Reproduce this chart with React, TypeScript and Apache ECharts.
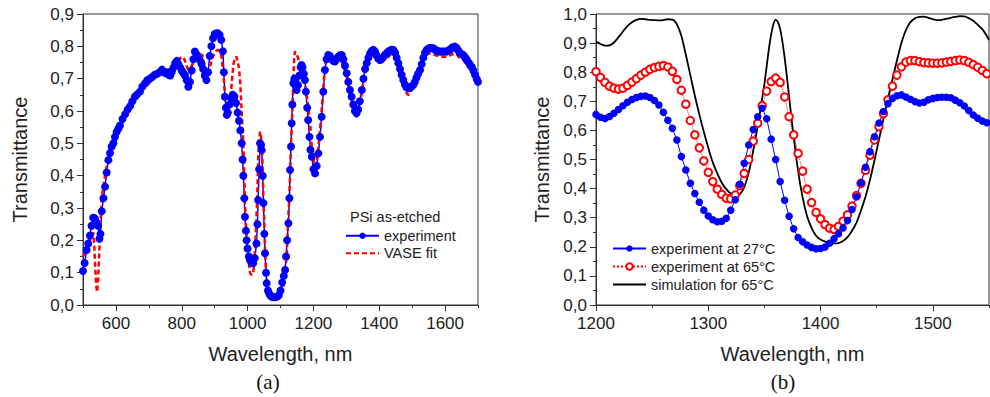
import React, { useEffect, useRef } from "react";
import * as echarts from "echarts";

// ---------- Panel (a): PSi as-etched ----------
const expA: [number, number][] = [
  [500, 0.105], [505, 0.13], [511, 0.17], [516, 0.19], [521, 0.215], [526, 0.245], [531, 0.27], [536, 0.268],
  [541, 0.255], [546, 0.245], [550, 0.205], [553, 0.22], [557, 0.29], [562, 0.33], [567, 0.366], [572, 0.41],
  [577, 0.448], [582, 0.47], [587, 0.49], [592, 0.5], [597, 0.52], [602, 0.535], [607, 0.545], [612, 0.555],
  [620, 0.575], [628, 0.59], [636, 0.605], [643, 0.615], [650, 0.63], [658, 0.645], [665, 0.652], [673, 0.66],
  [680, 0.675], [688, 0.685], [695, 0.695], [703, 0.7], [710, 0.705], [718, 0.712], [725, 0.715], [733, 0.72],
  [740, 0.728], [748, 0.718], [755, 0.72], [760, 0.712], [765, 0.71], [770, 0.722], [775, 0.735], [780, 0.748],
  [785, 0.755], [790, 0.745], [795, 0.735], [800, 0.725], [805, 0.717], [810, 0.71], [815, 0.695], [820, 0.675],
  [825, 0.69], [830, 0.725], [835, 0.76], [840, 0.784], [845, 0.775], [850, 0.765], [855, 0.758], [860, 0.745],
  [865, 0.73], [870, 0.71], [875, 0.696], [880, 0.72], [885, 0.77], [890, 0.8], [895, 0.825], [900, 0.838],
  [905, 0.84], [910, 0.84], [915, 0.835], [920, 0.82], [925, 0.785], [928, 0.72], [931, 0.644], [934, 0.61],
  [937, 0.588], [940, 0.595], [945, 0.62], [950, 0.64], [955, 0.65], [960, 0.645], [965, 0.625], [970, 0.595],
  [974, 0.57], [978, 0.54], [982, 0.5], [985, 0.45], [987, 0.4], [990, 0.33], [992, 0.273], [995, 0.23],
  [997, 0.2], [1000, 0.175], [1004, 0.15], [1007, 0.139], [1012, 0.13], [1017, 0.129], [1022, 0.145], [1027, 0.19],
  [1030, 0.25], [1032, 0.325], [1035, 0.42], [1038, 0.5], [1041, 0.495], [1043, 0.479], [1046, 0.4], [1048, 0.315],
  [1051, 0.22], [1053, 0.16], [1056, 0.1], [1058, 0.067], [1062, 0.045], [1066, 0.035], [1070, 0.028], [1075, 0.025],
  [1080, 0.024], [1085, 0.025], [1090, 0.026], [1095, 0.03], [1100, 0.045], [1105, 0.07], [1110, 0.09], [1114, 0.108],
  [1117, 0.15], [1120, 0.2], [1124, 0.253], [1127, 0.33], [1129, 0.418], [1132, 0.49], [1134, 0.562], [1136, 0.62],
  [1139, 0.686], [1142, 0.7], [1145, 0.68], [1149, 0.665], [1153, 0.68], [1157, 0.71], [1161, 0.735], [1164, 0.742],
  [1167, 0.735], [1171, 0.715], [1174, 0.696], [1177, 0.66], [1181, 0.61], [1184, 0.572], [1188, 0.52], [1191, 0.48],
  [1195, 0.459], [1200, 0.42], [1205, 0.407], [1210, 0.43], [1215, 0.469], [1220, 0.52], [1225, 0.582], [1230, 0.66],
  [1235, 0.727], [1240, 0.76], [1245, 0.773], [1250, 0.77], [1255, 0.762], [1260, 0.755], [1265, 0.753], [1270, 0.76],
  [1275, 0.768], [1280, 0.772], [1286, 0.773], [1291, 0.76], [1296, 0.74], [1301, 0.717], [1306, 0.69], [1311, 0.665],
  [1316, 0.644], [1321, 0.62], [1326, 0.6], [1331, 0.593], [1336, 0.605], [1341, 0.63], [1347, 0.665], [1352, 0.7],
  [1357, 0.73], [1362, 0.748], [1367, 0.765], [1372, 0.778], [1377, 0.786], [1382, 0.789], [1387, 0.784], [1392, 0.772],
  [1397, 0.762], [1402, 0.758], [1407, 0.76], [1412, 0.766], [1417, 0.773], [1422, 0.778], [1427, 0.783], [1432, 0.787],
  [1437, 0.789], [1443, 0.789], [1448, 0.78], [1453, 0.765], [1458, 0.748], [1463, 0.73], [1468, 0.712], [1473, 0.696],
  [1478, 0.682], [1483, 0.673], [1488, 0.67], [1493, 0.672], [1498, 0.676], [1503, 0.68], [1508, 0.69], [1513, 0.703],
  [1518, 0.715], [1524, 0.727], [1529, 0.745], [1534, 0.765], [1539, 0.78], [1544, 0.789], [1549, 0.793], [1554, 0.795],
  [1559, 0.795], [1564, 0.794], [1569, 0.79], [1574, 0.787], [1579, 0.785], [1584, 0.784], [1589, 0.784], [1594, 0.784],
  [1599, 0.784], [1605, 0.784], [1610, 0.787], [1615, 0.79], [1620, 0.795], [1625, 0.798], [1630, 0.799], [1635, 0.795],
  [1640, 0.787], [1645, 0.78], [1650, 0.776], [1655, 0.773], [1660, 0.767], [1665, 0.76], [1670, 0.752], [1675, 0.745],
  [1681, 0.737], [1686, 0.725], [1691, 0.712], [1696, 0.7], [1700, 0.69],
];

const vaseA: [number, number][] = [
  [500, 0.15], [505, 0.165], [510, 0.18], [516, 0.19], [521, 0.2], [526, 0.215], [531, 0.225], [534, 0.19],
  [537, 0.12], [540, 0.06], [543, 0.04], [546, 0.08], [549, 0.15], [553, 0.25], [557, 0.33], [562, 0.37],
  [567, 0.4], [572, 0.43], [577, 0.445], [585, 0.47], [592, 0.49], [600, 0.51], [610, 0.54], [620, 0.565],
  [630, 0.585], [640, 0.605], [650, 0.62], [660, 0.635], [670, 0.65], [680, 0.665], [690, 0.675], [700, 0.685],
  [710, 0.695], [720, 0.705], [730, 0.71], [740, 0.718], [750, 0.722], [760, 0.728], [770, 0.735], [780, 0.745],
  [790, 0.755], [797, 0.765], [803, 0.768], [808, 0.76], [813, 0.745], [818, 0.73], [823, 0.727], [828, 0.735],
  [835, 0.75], [842, 0.763], [850, 0.77], [858, 0.775], [863, 0.772], [868, 0.745], [873, 0.715], [877, 0.7],
  [882, 0.71], [887, 0.74], [893, 0.765], [900, 0.778], [906, 0.787], [911, 0.789], [916, 0.784], [921, 0.768],
  [926, 0.72], [931, 0.655], [936, 0.625], [942, 0.613], [947, 0.625], [952, 0.69], [957, 0.745], [962, 0.765],
  [966, 0.768], [970, 0.755], [974, 0.73], [977, 0.7], [981, 0.62], [984, 0.56], [987, 0.5], [990, 0.4],
  [992, 0.315], [995, 0.25], [998, 0.2], [1002, 0.17], [1005, 0.12], [1008, 0.098], [1012, 0.093], [1017, 0.098],
  [1021, 0.14], [1024, 0.2], [1027, 0.27], [1030, 0.36], [1032, 0.448], [1035, 0.51], [1038, 0.536], [1041, 0.52],
  [1043, 0.5], [1046, 0.42], [1048, 0.335], [1051, 0.25], [1053, 0.17], [1056, 0.1], [1060, 0.06], [1063, 0.046],
  [1068, 0.03], [1073, 0.02], [1078, 0.016], [1085, 0.018], [1093, 0.026], [1100, 0.035], [1104, 0.04], [1108, 0.05],
  [1112, 0.09], [1116, 0.125], [1119, 0.15], [1122, 0.23], [1126, 0.32], [1129, 0.397], [1132, 0.5], [1136, 0.6],
  [1139, 0.7], [1142, 0.77], [1144, 0.784], [1148, 0.778], [1153, 0.765], [1159, 0.748], [1166, 0.72], [1174, 0.686],
  [1182, 0.63], [1190, 0.562], [1195, 0.49], [1200, 0.448], [1205, 0.428], [1210, 0.445], [1215, 0.489], [1220, 0.54],
  [1225, 0.603], [1230, 0.67], [1235, 0.737], [1240, 0.77], [1245, 0.784], [1250, 0.782], [1255, 0.77], [1260, 0.76],
  [1265, 0.753], [1270, 0.752], [1275, 0.755], [1280, 0.758], [1286, 0.752], [1291, 0.74], [1296, 0.725], [1301, 0.706],
  [1306, 0.68], [1311, 0.655], [1316, 0.634], [1321, 0.605], [1326, 0.588], [1331, 0.582], [1336, 0.595], [1341, 0.62],
  [1347, 0.655], [1352, 0.69], [1357, 0.72], [1362, 0.748], [1367, 0.765], [1372, 0.772], [1377, 0.776], [1382, 0.778],
  [1387, 0.774], [1392, 0.768], [1397, 0.762], [1402, 0.758], [1407, 0.757], [1412, 0.758], [1417, 0.76], [1422, 0.763],
  [1427, 0.767], [1432, 0.772], [1437, 0.776], [1443, 0.778], [1448, 0.772], [1453, 0.755], [1458, 0.732], [1463, 0.712],
  [1468, 0.695], [1473, 0.68], [1478, 0.665], [1483, 0.655], [1488, 0.65], [1493, 0.653], [1498, 0.664], [1503, 0.675],
  [1508, 0.69], [1513, 0.702], [1518, 0.714], [1524, 0.727], [1530, 0.745], [1536, 0.762], [1542, 0.772], [1549, 0.778],
  [1556, 0.778], [1563, 0.775], [1570, 0.773], [1577, 0.771], [1584, 0.769], [1591, 0.768], [1598, 0.768], [1605, 0.768],
  [1612, 0.77], [1619, 0.774], [1625, 0.777], [1630, 0.778], [1636, 0.774], [1643, 0.766], [1650, 0.76], [1655, 0.758],
  [1662, 0.748], [1668, 0.738], [1675, 0.73], [1681, 0.722], [1688, 0.708], [1694, 0.697], [1700, 0.686],
];

// ---------- Panel (b): temperature ----------
const wlB: number[] = [
  1200, 1204, 1208, 1212, 1216, 1220, 1224, 1228, 1232, 1236, 1240, 1244, 1248, 1252, 1256, 1260, 1264, 1268,
  1272, 1276, 1280, 1284, 1288, 1292, 1296, 1300, 1304, 1308, 1312, 1316, 1320, 1324, 1328, 1332, 1336, 1340,
  1344, 1348, 1352, 1356, 1360, 1364, 1368, 1372, 1376, 1380, 1384, 1388, 1392, 1396, 1400, 1404, 1408, 1412,
  1416, 1420, 1424, 1428, 1432, 1436, 1440, 1444, 1448, 1452, 1456, 1460, 1464, 1468, 1472, 1476, 1480, 1484,
  1488, 1492, 1496, 1500, 1504, 1508, 1512, 1516, 1520, 1524, 1528, 1532, 1536, 1540, 1544, 1548,
];
const exp27: number[] = [
  0.655, 0.645, 0.641, 0.648, 0.659, 0.672, 0.685, 0.697, 0.706, 0.713, 0.717, 0.718, 0.713, 0.703, 0.687, 0.662, 0.635, 0.607,
  0.567, 0.51, 0.464, 0.418, 0.383, 0.353, 0.326, 0.306, 0.293, 0.286, 0.288, 0.298, 0.326, 0.362, 0.415, 0.487, 0.55, 0.603,
  0.647, 0.676, 0.64, 0.57, 0.5, 0.424, 0.36, 0.305, 0.262, 0.232, 0.217, 0.206, 0.198, 0.193, 0.194, 0.199, 0.212, 0.228,
  0.245, 0.265, 0.29, 0.328, 0.372, 0.42, 0.473, 0.527, 0.578, 0.625, 0.665, 0.692, 0.71, 0.719, 0.722, 0.715, 0.707, 0.699,
  0.694, 0.697, 0.705, 0.71, 0.713, 0.714, 0.714, 0.712, 0.704, 0.695, 0.684, 0.668, 0.653, 0.642, 0.632, 0.626,
];
const exp65: number[] = [
  0.802, 0.782, 0.765, 0.752, 0.745, 0.742, 0.745, 0.755, 0.766, 0.778, 0.79, 0.8, 0.81, 0.816, 0.82, 0.823, 0.818, 0.803,
  0.775, 0.738, 0.69, 0.634, 0.585, 0.54, 0.495, 0.456, 0.424, 0.398, 0.38, 0.367, 0.365, 0.378, 0.41, 0.452, 0.5, 0.563,
  0.625, 0.685, 0.735, 0.768, 0.78, 0.765, 0.715, 0.647, 0.585, 0.521, 0.46, 0.398, 0.352, 0.318, 0.296, 0.276, 0.264, 0.26,
  0.27, 0.288, 0.31, 0.34, 0.376, 0.418, 0.463, 0.515, 0.567, 0.613, 0.658, 0.705, 0.752, 0.79, 0.818, 0.835, 0.84, 0.84,
  0.836, 0.833, 0.832, 0.831, 0.831, 0.832, 0.835, 0.837, 0.84, 0.842, 0.84, 0.834, 0.826, 0.817, 0.806, 0.795,
];
const sim65: [number, number][] = [
  [1200, 0.905], [1204, 0.897], [1208, 0.891], [1212, 0.892], [1216, 0.902], [1220, 0.92], [1224, 0.94], [1228, 0.958],
  [1232, 0.972], [1236, 0.98], [1240, 0.983], [1244, 0.982], [1248, 0.98], [1252, 0.979], [1256, 0.978], [1260, 0.979],
  [1264, 0.982], [1268, 0.981], [1272, 0.965], [1276, 0.925], [1280, 0.86], [1284, 0.79], [1288, 0.72], [1292, 0.655],
  [1296, 0.595], [1300, 0.54], [1304, 0.49], [1308, 0.452], [1312, 0.42], [1316, 0.398], [1320, 0.383], [1324, 0.376],
  [1328, 0.38], [1332, 0.405], [1336, 0.455], [1340, 0.53], [1344, 0.615], [1348, 0.71], [1350, 0.76], [1352, 0.82],
  [1354, 0.88], [1356, 0.93], [1358, 0.965], [1360, 0.98], [1362, 0.972], [1364, 0.948], [1366, 0.905], [1368, 0.85],
  [1370, 0.785], [1372, 0.715], [1374, 0.645], [1376, 0.58], [1380, 0.46], [1384, 0.37], [1388, 0.305], [1392, 0.265],
  [1396, 0.238], [1400, 0.225], [1404, 0.218], [1408, 0.214], [1412, 0.212], [1416, 0.213], [1420, 0.22], [1424, 0.233],
  [1428, 0.255], [1432, 0.283], [1436, 0.325], [1440, 0.372], [1444, 0.43], [1448, 0.497], [1452, 0.568], [1456, 0.64],
  [1460, 0.71], [1464, 0.775], [1468, 0.84], [1472, 0.9], [1476, 0.945], [1480, 0.972], [1484, 0.985], [1488, 0.99],
  [1492, 0.991], [1496, 0.987], [1500, 0.982], [1504, 0.979], [1508, 0.98], [1512, 0.983], [1516, 0.987], [1520, 0.99],
  [1524, 0.993], [1528, 0.992], [1532, 0.986], [1536, 0.977], [1540, 0.963], [1544, 0.948], [1548, 0.925], [1550, 0.91],
];

const xMajorA = [600, 800, 1000, 1200, 1400, 1600];
const xMinorA = [500, 700, 900, 1100, 1300, 1500, 1700];
const xMajorB = [1200, 1300, 1400, 1500];
const xMinorB = [1250, 1350, 1450, 1550];

const FONT = "'Liberation Sans', Arial, sans-serif";
const AXIS_COLOR = "#333";
const TEXT_COLOR = "#222";
const BLUE = "#0000ff";
const RED = "#ff0000";

const comma = (v: number) => v.toFixed(1).replace(".", ",");
const plain = (v: number) => String(Math.round(v));

export default function App() {
  const ref = useRef<HTMLDivElement>(null);

  useEffect(() => {
    if (!ref.current) return;
    const chart = echarts.init(ref.current, undefined, { renderer: "svg" });

    const axisLine = { show: true, lineStyle: { color: AXIS_COLOR, width: 1 } };
    const axisLabel = { color: TEXT_COLOR, fontSize: 17, fontFamily: FONT };
    const nameStyle = { color: TEXT_COLOR, fontSize: 20, fontFamily: FONT };

    const yAxisCommon = (gridIndex: number, max: number, nameGap: number) => ({
      type: "value",
      gridIndex,
      min: 0,
      max,
      interval: 0.1,
      name: "Transmittance",
      nameLocation: "middle",
      nameGap,
      nameTextStyle: nameStyle,
      axisLine,
      axisTick: { show: true, length: 6, lineStyle: { color: AXIS_COLOR } },
      minorTick: { show: true, splitNumber: 2, length: 3, lineStyle: { color: AXIS_COLOR } },
      splitLine: { show: false },
      axisLabel: { ...axisLabel, margin: 9, formatter: comma },
    });

    const xAxisPair = (gridIndex: number, min: number, max: number, major: number[], minor: number[]) => [
      {
        type: "value",
        gridIndex,
        position: "bottom",
        min,
        max,
        name: "Wavelength, nm",
        nameLocation: "middle",
        nameGap: 39,
        nameTextStyle: nameStyle,
        axisLine,
        axisTick: { show: true, length: 6, customValues: major, lineStyle: { color: AXIS_COLOR } },
        axisLabel: { ...axisLabel, margin: 10, customValues: major, formatter: plain },
        splitLine: { show: false },
      },
      {
        type: "value",
        gridIndex,
        position: "bottom",
        min,
        max,
        axisLine: { show: false },
        axisTick: { show: true, length: 3, customValues: minor, lineStyle: { color: AXIS_COLOR } },
        axisLabel: { show: false },
        splitLine: { show: false },
      },
    ];

    const gridCommon = {
      top: 14,
      height: 291,
      show: true,
      borderColor: AXIS_COLOR,
      borderWidth: 1,
      backgroundColor: "transparent",
      containLabel: false,
      outerBoundsMode: "none",
    };

    const option: any = {
      animation: false,
      backgroundColor: "#fff",
      grid: [
        { ...gridCommon, left: 83, width: 395 },
        { ...gridCommon, left: 596, width: 393 },
      ],
      xAxis: [
        ...xAxisPair(0, 500, 1700, xMajorA, xMinorA),
        ...xAxisPair(1, 1200, 1550, xMajorB, xMinorB),
      ],
      yAxis: [yAxisCommon(0, 0.9, 53), yAxisCommon(1, 1.0, 44)],
      legend: [
        {
          orient: "vertical",
          left: 345,
          top: 227,
          padding: 0,
          itemWidth: 33,
          itemHeight: 8,
          itemGap: 0,
          textStyle: { color: TEXT_COLOR, fontSize: 14.5, fontFamily: FONT, lineHeight: 17.5 },
          data: [
            { name: "experiment" },
            { name: "VASE fit", itemStyle: { opacity: 0 } },
          ],
        },
        {
          orient: "vertical",
          left: 612,
          top: 239.5,
          padding: 0,
          itemWidth: 33,
          itemHeight: 8,
          itemGap: 0,
          textStyle: { color: TEXT_COLOR, fontSize: 14.5, fontFamily: FONT, lineHeight: 18 },
          data: [
            { name: "experiment at 27°C" },
            { name: "experiment at 65°C" },
            { name: "simulation for 65°C", itemStyle: { opacity: 0 } },
          ],
        },
      ],
      graphic: [
        {
          type: "text",
          left: 350,
          top: 209,
          style: { text: "PSi as-etched", fontSize: 14.5, fontFamily: FONT, fill: TEXT_COLOR },
        },
        {
          type: "text",
          x: 268,
          y: 382,
          style: { text: "(a)", fontSize: 21, fontFamily: "'Liberation Serif', 'DejaVu Serif', serif", fill: "#111", align: "center", verticalAlign: "middle" },
        },
        {
          type: "text",
          x: 783,
          y: 382,
          style: { text: "(b)", fontSize: 21, fontFamily: "'Liberation Serif', 'DejaVu Serif', serif", fill: "#111", align: "center", verticalAlign: "middle" },
        },
      ],
      series: [
        {
          name: "experiment",
          type: "line",
          xAxisIndex: 0,
          yAxisIndex: 0,
          data: expA,
          symbol: "circle",
          symbolSize: 8,
          showAllSymbol: true,
          itemStyle: { color: BLUE },
          lineStyle: { color: BLUE, width: 1.5 },
          emphasis: { disabled: true },
        },
        {
          name: "VASE fit",
          type: "line",
          xAxisIndex: 0,
          yAxisIndex: 0,
          data: vaseA,
          symbol: "none",
          itemStyle: { color: RED },
          lineStyle: { color: RED, width: 2.5, type: [5, 3] },
          emphasis: { disabled: true },
        },
        {
          name: "experiment at 65°C",
          type: "line",
          xAxisIndex: 2,
          yAxisIndex: 1,
          data: wlB.map((w, i) => [w, exp65[i]]),
          symbol: "emptyCircle",
          symbolSize: 7.5,
          showAllSymbol: true,
          itemStyle: { color: RED, borderColor: RED, borderWidth: 1.3 },
          lineStyle: { color: RED, width: 1, type: "dotted" },
          emphasis: { disabled: true },
        },
        {
          name: "experiment at 27°C",
          type: "line",
          xAxisIndex: 2,
          yAxisIndex: 1,
          data: wlB.map((w, i) => [w, exp27[i]]),
          symbol: "circle",
          symbolSize: 7.5,
          showAllSymbol: true,
          itemStyle: { color: BLUE },
          lineStyle: { color: BLUE, width: 1 },
          emphasis: { disabled: true },
        },
        {
          name: "simulation for 65°C",
          type: "line",
          xAxisIndex: 2,
          yAxisIndex: 1,
          data: sim65,
          symbol: "none",
          smooth: 0.3,
          itemStyle: { color: "#000" },
          lineStyle: { color: "#000", width: 1.8 },
          emphasis: { disabled: true },
        },
      ],
    };

    chart.setOption(option);
    return () => chart.dispose();
  }, []);

  return (
    <div
      ref={ref}
      style={{ position: "absolute", left: 0, top: 0, width: 990, height: 397, background: "#fff" }}
    />
  );
}
